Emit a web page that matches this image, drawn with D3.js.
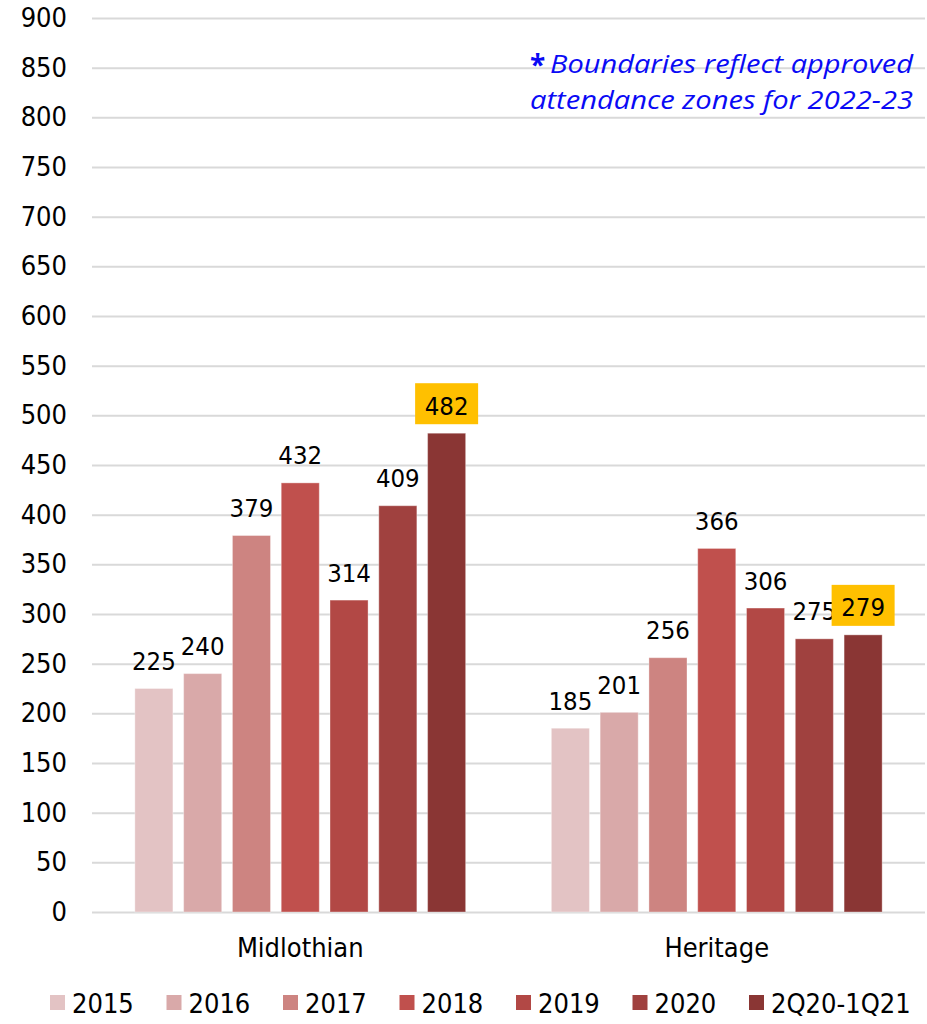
<!DOCTYPE html>
<html>
<head>
<meta charset="utf-8">
<script src="https://cdn.jsdelivr.net/npm/d3@7/dist/d3.min.js"></script>
<style>
  html, body { margin: 0; padding: 0; background: #fff; }
  svg { display: block; }
</style>
</head>
<body>
<svg id="chart" width="927" height="1024"></svg>
<script>
// Schools and reporting periods
const schools = ["Midlothian", "Heritage"];
const periods = ["2015", "2016", "2017", "2018", "2019", "2020", "2Q20-1Q21"];
const periodColors = ["#E3C3C4", "#D9A9A9", "#CD8481", "#C0504D", "#B24845", "#A0413F", "#8A3634"];

// Values per school, one per period
const midlothianValues = [225, 240, 379, 432, 314, 409, 482];
const heritageValues = [185, 201, 256, 366, 306, 275, 279];

const yTicks = [0, 50, 100, 150, 200, 250, 300, 350, 400, 450, 500, 550, 600, 650, 700, 750, 800, 850, 900];
const noteLines = ["Boundaries reflect approved", "attendance zones for 2022-23"];

const FONT = "'DejaVu Sans Condensed', 'DejaVu Sans', sans-serif";

const rows = schools.map((s, i) => ({
  school: s,
  values: [midlothianValues, heritageValues][i].map((v, j) => ({ period: periods[j], value: v, idx: j }))
}));

const svg = d3.select("#chart");
const margin = { left: 92, right: 2, top: 18, bottom: 112 };
const W = 927, H = 1024;

const x0 = d3.scaleBand().domain(schools)
  .range([margin.left, W - margin.right]).paddingInner(0.18).paddingOuter(0.09);
const x1 = d3.scaleBand().domain(periods)
  .range([0, x0.bandwidth()]).paddingInner(0.22).paddingOuter(0.11);
const y = d3.scaleLinear().domain([0, 900]).range([H - margin.bottom, margin.top]);
const color = d3.scaleOrdinal().domain(periods).range(periodColors);

// Gridlines + y labels
const yAxis = d3.axisLeft(y).tickValues(yTicks).tickSize(-(W - margin.left - margin.right)).tickPadding(25);
const gy = svg.append("g").attr("transform", `translate(${margin.left},0)`).call(yAxis);
gy.select(".domain").remove();
gy.selectAll(".tick line").attr("stroke", "#D9D9D9").attr("stroke-width", 2);
gy.selectAll(".tick text")
  .attr("font-family", FONT)
  .attr("font-size", 27).attr("fill", "#000");

// Note in the upper right
const note = svg.append("g").attr("fill", "#0A0AF5")
  .attr("font-family", "'Open Sans', sans-serif");
note.append("text").attr("x", 530).attr("y", 75)
  .attr("font-weight", "bold").attr("font-size", 28).text("*");
note.append("text").attr("x", 550).attr("y", 73)
  .attr("font-style", "italic").attr("font-size", 25)
  .attr("textLength", 363).attr("lengthAdjust", "spacingAndGlyphs")
  .text(noteLines[0]);
note.append("text").attr("x", 530).attr("y", 109)
  .attr("font-style", "italic").attr("font-size", 25)
  .attr("textLength", 383).attr("lengthAdjust", "spacingAndGlyphs")
  .text(noteLines[1]);

// Bars
const groups = svg.append("g").selectAll("g").data(rows).join("g")
  .attr("transform", d => `translate(${x0(d.school)},0)`);

groups.selectAll("rect").data(d => d.values).join("rect")
  .attr("x", d => x1(d.period))
  .attr("width", x1.bandwidth())
  .attr("y", d => y(d.value))
  .attr("height", d => y(0) - y(d.value))
  .attr("fill", d => color(d.period))
  .attr("stroke", "#fff").attr("stroke-opacity", 0.35).attr("stroke-width", 1);

// Value labels; the most recent period is highlighted
const lastPeriod = periods[periods.length - 1];
groups.each(function (d) {
  const g = d3.select(this);
  d.values.forEach(v => {
    const cx = x1(v.period) + x1.bandwidth() / 2;
    const base = y(v.value) - 18.5;
    if (v.period === lastPeriod) {
      g.append("rect")
        .attr("x", cx - 31.5).attr("y", base - 31.5)
        .attr("width", 63).attr("height", 41)
        .attr("fill", "#FFC000");
    }
    g.append("text")
      .attr("x", cx).attr("y", base)
      .attr("text-anchor", "middle")
      .attr("font-family", FONT)
      .attr("font-size", 25.5).attr("fill", "#000")
      .text(v.value);
  });
});

// School labels
svg.append("g").selectAll("text").data(schools).join("text")
  .attr("x", d => x0(d) + x0.bandwidth() / 2)
  .attr("y", 957)
  .attr("text-anchor", "middle")
  .attr("font-family", FONT)
  .attr("font-size", 27).attr("fill", "#000")
  .text(d => d);

// Legend
const legendX = d3.scalePoint().domain(periods).range([50, 749]);
const lg = svg.append("g").selectAll("g").data(periods).join("g")
  .attr("transform", d => `translate(${legendX(d)},0)`);
lg.append("rect").attr("x", 0).attr("y", 995).attr("width", 15).attr("height", 15)
  .attr("fill", d => color(d));
lg.append("text").attr("x", 22).attr("y", 1013)
  .attr("font-family", FONT)
  .attr("font-size", 27).attr("fill", "#000")
  .text(d => d);
</script>
</body>
</html>
